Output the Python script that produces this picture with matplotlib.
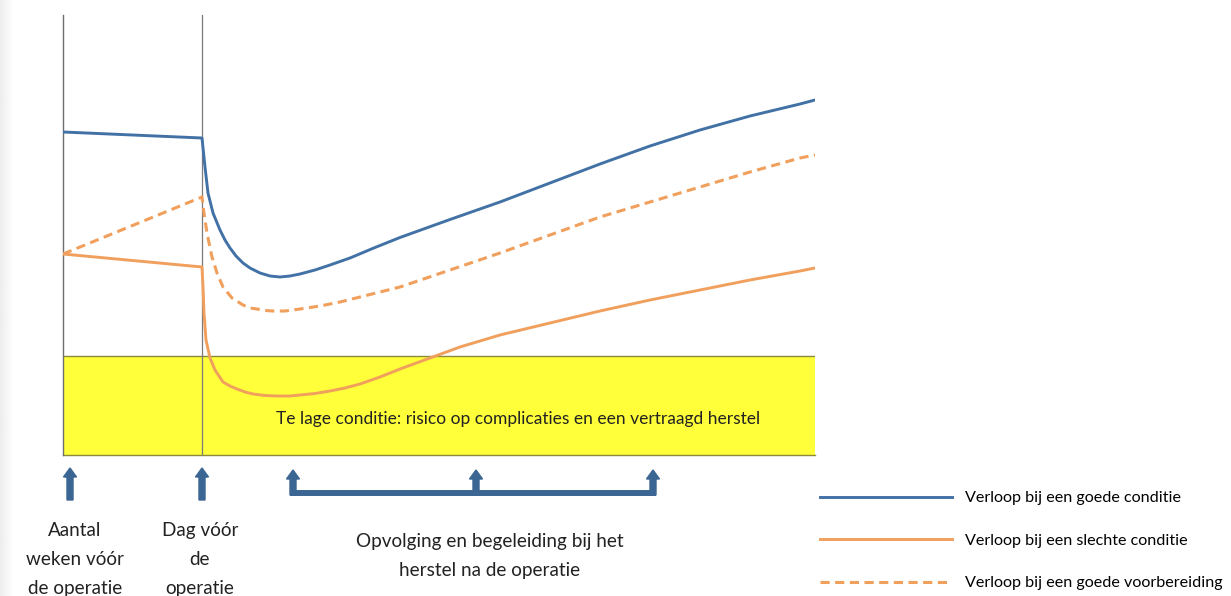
import numpy as np
import matplotlib
matplotlib.use("Agg")
import matplotlib.pyplot as plt
from matplotlib.patches import Rectangle, FancyArrow

plt.rcParams['font.family'] = ['Lato', 'DejaVu Sans']

# condition over time (x: time axis, y: condition level, arbitrary units)
good_x = [0, 139, 142, 145, 150, 157, 162, 167, 173, 180, 187, 197, 207,
          217, 227, 237, 252, 267, 287, 312, 337, 362, 387, 437, 487, 537,
          587, 637, 687, 737, 752]
good_y = [323, 317, 288, 262, 242, 225, 215, 207, 199, 192, 187, 182, 179,
          178, 179, 181, 185, 190, 197, 207.5, 217.5, 226.5, 235.5, 253, 272,
          291, 309, 325, 339, 351, 355]

bad_x = [0, 139, 140, 141, 143, 147, 152, 160, 167, 174, 182, 190, 202,
         214, 227, 237, 252, 267, 282, 297, 317, 337, 367, 397, 437, 487,
         537, 587, 637, 687, 737, 752]
bad_y = [201, 188, 168, 142, 115, 97, 85, 73, 69, 66, 63, 61, 59.5,
         59, 59, 60, 61.5, 64, 67, 71, 78, 86, 97, 108, 120, 132,
         144, 155, 165, 175, 184, 187]

prep_x = [0, 139, 141, 144, 149, 154, 160, 169, 180, 187, 194, 202, 210,
          222, 237, 257, 277, 297, 317, 337, 387, 437, 487, 537, 587, 637,
          687, 737, 752]
prep_y = [201, 258, 242, 222, 198, 182, 168, 157, 150, 147, 146, 144.5, 144,
          144, 146, 149, 153, 158, 163, 168, 185, 202, 220, 238, 253, 268,
          283, 297, 300]

surgery_day = 139
risk_level = 99
x_end = 752
y_top = 440

single_arrows = [7, 139]
followup_arrows = [230, 413, 590]

labels = ["Verloop bij een goede conditie",
          "Verloop bij een slechte conditie",
          "Verloop bij een goede voorbereiding"]
risk_text = "Te lage conditie: risico op complicaties en een vertraagd herstel"
under_texts = ["Aantal\nweken vóór\nde operatie",
               "Dag vóór\nde\noperatie",
               "Opvolging en begeleiding bij het\nherstel na de operatie"]

BLUE = "#4271A6"
ORANGE = "#F0A05C"
ARROW = "#3B6593"

W, H = 1231, 596
fig = plt.figure(figsize=(W / 100, H / 100), dpi=100)

# light grey fade at the left edge
bg = fig.add_axes([0, 0, 14 / W, 1])
bg.imshow(np.linspace(0.93, 1.0, 50)[None, :], cmap='gray', vmin=0, vmax=1,
          aspect='auto', extent=[0, 1, 0, 1])
bg.axis('off')

ax = fig.add_axes([63 / W, 141 / H, 752 / W, 440 / H])
ax.set_xlim(0, x_end)
ax.set_ylim(0, y_top)
for s in ['top', 'right', 'bottom']:
    ax.spines[s].set_visible(False)
ax.spines['left'].set_color('#6f6f6f')
ax.spines['left'].set_linewidth(1.0)
ax.set_xticks([])
ax.set_yticks([])

ax.add_patch(Rectangle((0, 0), x_end, risk_level, facecolor='#FFFF3A',
                       edgecolor='none', zorder=1))
ax.plot([0, x_end], [risk_level, risk_level], color='#8A8A3A', lw=1.0, zorder=2)
ax.plot([0, x_end], [0, 0], color='#8A8A3A', lw=1.0, zorder=2, clip_on=False)
ax.axvline(surgery_day, color='#7a7a7a', lw=0.9, zorder=2)

l1, = ax.plot(good_x, good_y, color=BLUE, lw=2.1, zorder=4,
              solid_joinstyle='round', label=labels[0])
l2, = ax.plot(bad_x, bad_y, color=ORANGE, lw=2.1, zorder=4,
              solid_joinstyle='round', label=labels[1])
l3, = ax.plot(prep_x, prep_y, color=ORANGE, lw=2.2, zorder=4,
              dashes=(3.0, 1.8), label=labels[2])

ax.text(455, 36, risk_text, ha='center', va='center', fontsize=12.5,
        color='#222222', zorder=5)

# arrows under the time axis
for x in single_arrows:
    ax.add_patch(FancyArrow(x, -45, 0, 32, width=6, head_width=13,
                            head_length=9, length_includes_head=True,
                            color=ARROW, clip_on=False))
ax.plot([followup_arrows[0], followup_arrows[-1]], [-38, -38], color=ARROW,
        lw=4.3, solid_capstyle='projecting', clip_on=False)
for x in followup_arrows:
    ax.add_patch(FancyArrow(x, -40, 0, 25, width=6, head_width=13,
                            head_length=9, length_includes_head=True,
                            color=ARROW, clip_on=False))

txt_kw = dict(ha='center', va='top', fontsize=13.6, linespacing=1.85,
              color='#222222', clip_on=False)
ax.text(12, -67, under_texts[0], **txt_kw)
ax.text(137, -67, under_texts[1], **txt_kw)
ax.text(427, -78, under_texts[2], **txt_kw)

ax.legend(handles=[l1, l2, l3], loc='upper left', frameon=False,
          bbox_to_anchor=(820 / W, 1 - 491 / H), bbox_transform=fig.transFigure,
          fontsize=11.6, handlelength=8.2, handletextpad=0.8,
          labelspacing=1.75, borderpad=0, borderaxespad=0)

fig.savefig("out.png", dpi=100)
